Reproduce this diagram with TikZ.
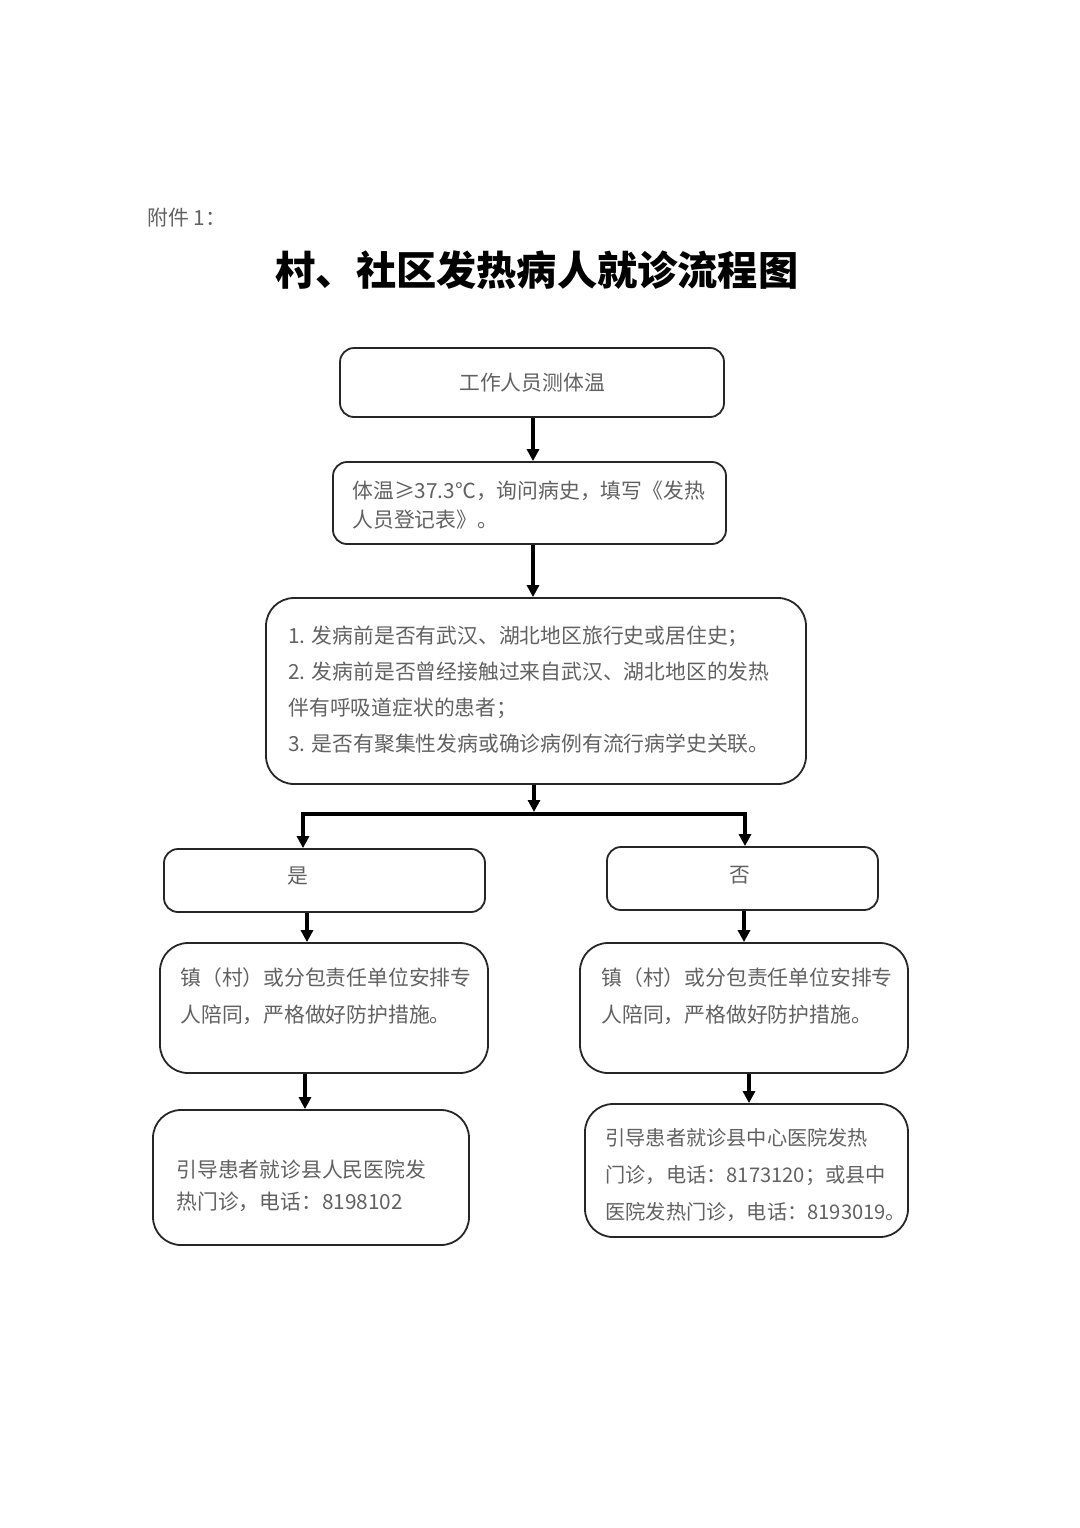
\documentclass[tikz,border=0pt]{standalone}
\usepackage{fontspec}
\setmainfont{Noto Sans CJK SC}
\usetikzlibrary{arrows.meta,fit}

\begin{document}
\begin{tikzpicture}[x=0.5pt,y=-0.5pt,
  box/.style={draw=black!85,line width=0.9pt,rounded corners=7pt,inner sep=0pt},
  bigbox/.style={box,rounded corners=14pt},
  txt/.style={text=black!62,inner sep=0pt,align=left,font=\fontsize{10.4pt}{#1}\selectfont},
  txt/.default=14pt,
  flow/.style={line width=1.6pt,-{Triangle[length=6pt,width=6pt]}},
  bar/.style={line width=1.6pt}]
\useasboundingbox (0,0) rectangle (1080,1528);
\node[txt,anchor=west] (att) at (147,218) {附件 1：};
\node[inner sep=0pt,font=\fontsize{20.1pt}{24pt}\selectfont\bfseries] (title) at (537,270) {村、社区发热病人就诊流程图};
% main column
\node[box,fit={(340,348) (724,417)}] (meas) {};
\node[txt] at (meas) {工作人员测体温};
\node[box,fit={(333,462) (726,544)}] (temp) {};
\node[txt=14.5pt,anchor=west] at (352,505) {体温≥37.3℃，询问病史，填写《发热\\人员登记表》。};
\node[bigbox,fit={(266,598) (806,784)}] (ask) {};
\node[txt=18pt,anchor=west] at (288,690) {1. 发病前是否有武汉、湖北地区旅行史或居住史；\\2. 发病前是否曾经接触过来自武汉、湖北地区的发热\\伴有呼吸道症状的患者；\\3. 是否有聚集性发病或确诊病例有流行病学史关联。};
% branches
\node[box,fit={(164,849) (485,912)}] (yes) {};
\node[txt] at (298,876) {是};
\node[box,fit={(607,847) (878,910)}] (no) {};
\node[txt] at (740,875) {否};
\node[bigbox,fit={(160,943) (488,1073)}] (yesgo) {};
\node[txt=18.5pt,anchor=west] at (180,996) {镇（村）或分包责任单位安排专\\人陪同，严格做好防护措施。};
\node[bigbox,fit={(580,943) (908,1073)}] (nogo) {};
\node[txt=18.5pt,anchor=west] at (601,996) {镇（村）或分包责任单位安排专\\人陪同，严格做好防护措施。};
\node[bigbox,fit={(153,1110) (469,1245)}] (yeshosp) {};
\node[txt=16pt,anchor=west] at (176,1186) {引导患者就诊县人民医院发\\热门诊，电话：8198102};
\node[bigbox,fit={(585,1104) (908,1237)}] (nohosp) {};
\node[txt=18.5pt,anchor=west,font=\fontsize{10.1pt}{18.5pt}\selectfont] at (605,1175) {引导患者就诊县中心医院发热\\门诊，电话：8173120；或县中\\医院发热门诊，电话：8193019。};
% connectors
\coordinate (split) at (534,814);
\coordinate (jl) at (303,814);
\coordinate (jr) at (745,814);
\draw[flow] (533,0 |- meas.south) -- (533,0 |- temp.north);
\draw[flow] (533,0 |- temp.south) -- (533,0 |- ask.north);
\draw[flow] (534,0 |- ask.south) -- ([yshift=1pt]split);
\draw[bar] ([xshift=-0.8pt]jl) -- ([xshift=0.8pt]jr);
\draw[flow] (jl) -- (jl |- yes.north);
\draw[flow] (jr) -- (jr |- no.north);
\draw[flow] (307,0 |- yes.south) -- (307,0 |- yesgo.north);
\draw[flow] (744,0 |- no.south) -- (744,0 |- nogo.north);
\draw[flow] (305,0 |- yesgo.south) -- (305,0 |- yeshosp.north);
\draw[flow] (749,0 |- nogo.south) -- (749,0 |- nohosp.north);
\end{tikzpicture}
\end{document}
